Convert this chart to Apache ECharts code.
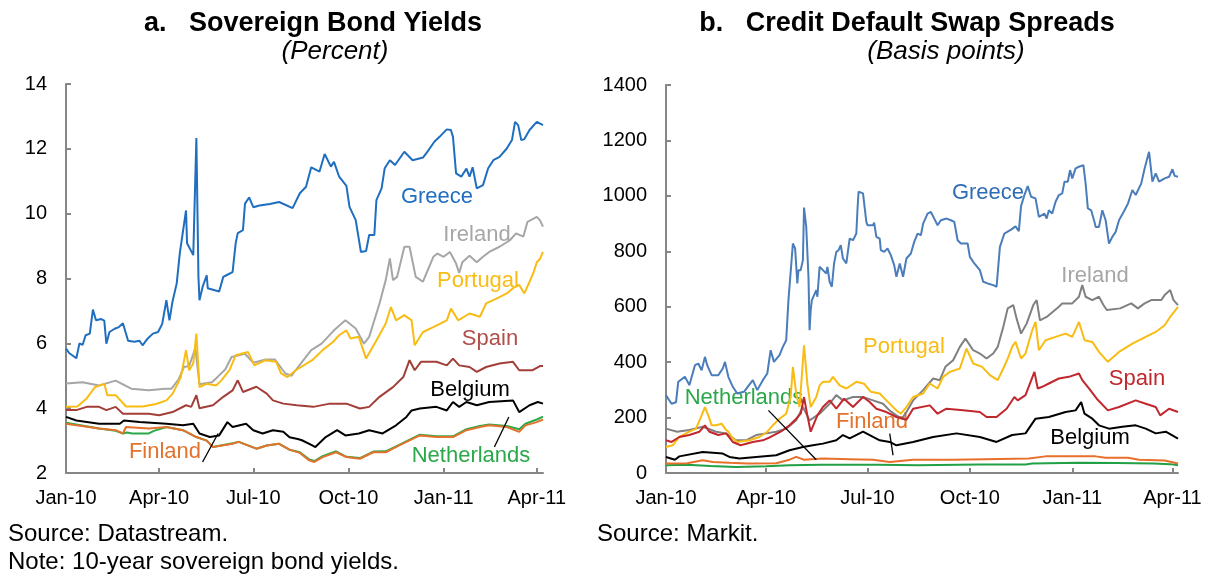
<!DOCTYPE html>
<html><head><meta charset="utf-8">
<script src="https://cdn.jsdelivr.net/npm/echarts@6/dist/echarts.min.js"></script>
<style>html,body{margin:0;padding:0;background:#fff}#c{width:1215px;height:574px}</style>
</head><body><div id="c"></div>
<script>
// ---------- DATA ----------
const tickLabels = ["Jan-10","Apr-10","Jul-10","Oct-10","Jan-11","Apr-11"];
const tickDates = ["2010-01-01","2010-04-01","2010-07-01","2010-10-01","2011-01-01","2011-04-01"];
const yieldTicks = [2,14,2];     // min, max, step
const cdsTicks = [0,1400,200];

// Panel a: 10-year sovereign bond yields (percent)
const greeceYield = [["2010-01-01",5.84],["2010-01-04",5.7],["2010-01-11",5.54],["2010-01-14",6.0],["2010-01-17",5.95],["2010-01-20",6.25],["2010-01-24",6.3],["2010-01-27",7.04],["2010-01-30",6.71],["2010-02-04",6.75],["2010-02-07",6.7],["2010-02-09",5.99],["2010-02-12",6.35],["2010-02-17",6.45],["2010-02-21",6.5],["2010-02-25",6.62],["2010-03-02",6.08],["2010-03-08",6.05],["2010-03-13",6.08],["2010-03-16",5.94],["2010-03-21",6.15],["2010-03-26",6.3],["2010-03-31",6.35],["2010-04-04",6.6],["2010-04-08",7.33],["2010-04-11",6.71],["2010-04-14",7.3],["2010-04-18",7.85],["2010-04-21",8.78],["2010-04-27",10.1],["2010-04-28",9.09],["2010-05-04",8.72],["2010-05-07",12.33],["2010-05-09",8.05],["2010-05-10",7.33],["2010-05-13",7.74],["2010-05-17",8.1],["2010-05-18",7.7],["2010-05-29",7.6],["2010-06-02",8.05],["2010-06-05",8.1],["2010-06-11",8.2],["2010-06-14",9.09],["2010-06-16",9.4],["2010-06-21",9.49],["2010-06-23",10.31],["2010-06-27",10.5],["2010-07-01",10.2],["2010-07-07",10.25],["2010-07-17",10.3],["2010-07-26",10.36],["2010-08-08",10.17],["2010-08-15",10.63],["2010-08-21",10.83],["2010-08-26",11.43],["2010-09-03",11.3],["2010-09-08",11.84],["2010-09-14",11.45],["2010-09-17",11.6],["2010-09-22",11.14],["2010-09-29",10.86],["2010-10-02",10.21],["2010-10-08",9.8],["2010-10-13",8.82],["2010-10-18",8.85],["2010-10-21",9.34],["2010-10-26",9.34],["2010-10-28",10.42],["2010-11-02",10.78],["2010-11-05",11.4],["2010-11-10",11.65],["2010-11-15",11.5],["2010-11-24",11.91],["2010-12-02",11.65],["2010-12-12",11.73],["2010-12-16",11.9],["2010-12-23",12.22],["2010-12-28",12.37],["2011-01-04",12.6],["2011-01-08",12.58],["2011-01-10",12.37],["2011-01-13",11.24],["2011-01-18",11.14],["2011-01-23",11.39],["2011-01-26",11.14],["2011-01-29",11.43],["2011-02-02",10.78],["2011-02-08",10.88],["2011-02-13",11.4],["2011-02-18",11.65],["2011-02-24",11.75],["2011-03-03",12.01],["2011-03-08",12.27],["2011-03-11",12.83],["2011-03-14",12.73],["2011-03-17",12.27],["2011-03-20",12.3],["2011-03-25",12.58],["2011-04-01",12.83],["2011-04-07",12.73]];
const irelandYield = [["2010-01-01",4.76],["2010-01-17",4.8],["2010-02-02",4.7],["2010-02-18",4.85],["2010-02-26",4.72],["2010-03-05",4.6],["2010-03-22",4.55],["2010-04-07",4.6],["2010-04-13",4.6],["2010-04-20",4.9],["2010-04-25",5.27],["2010-04-30",5.3],["2010-05-06",5.85],["2010-05-10",4.74],["2010-05-22",4.8],["2010-05-28",4.98],["2010-06-04",5.2],["2010-06-10",5.58],["2010-06-23",5.68],["2010-07-01",5.4],["2010-07-13",5.5],["2010-07-22",5.5],["2010-08-01",5.07],["2010-08-07",5.0],["2010-08-14",5.3],["2010-08-26",5.79],["2010-09-05",5.99],["2010-09-17",6.4],["2010-09-28",6.71],["2010-10-08",6.46],["2010-10-16",5.99],["2010-10-21",6.2],["2010-10-31",7.23],["2010-11-06",7.95],["2010-11-10",8.62],["2010-11-13",7.95],["2010-11-17",8.05],["2010-11-24",8.98],["2010-11-29",8.98],["2010-12-05",8.05],["2010-12-12",7.9],["2010-12-22",8.67],["2010-12-26",8.77],["2011-01-01",8.67],["2011-01-07",8.82],["2011-01-13",8.46],["2011-01-16",8.17],["2011-01-19",8.5],["2011-01-26",8.7],["2011-02-02",8.5],["2011-02-08",8.67],["2011-02-14",8.82],["2011-02-24",8.98],["2011-03-06",9.18],["2011-03-12",9.39],["2011-03-19",9.29],["2011-03-23",9.75],["2011-04-01",9.9],["2011-04-04",9.8],["2011-04-07",9.6]];
const portugalYield = [["2010-01-01",4.04],["2010-01-12",4.05],["2010-01-21",4.3],["2010-01-29",4.65],["2010-02-07",4.75],["2010-02-10",4.4],["2010-02-18",4.4],["2010-02-28",4.05],["2010-03-16",4.05],["2010-03-29",4.13],["2010-04-08",4.24],["2010-04-14",4.44],["2010-04-22",4.96],["2010-04-27",5.79],["2010-04-30",5.17],["2010-05-04",5.38],["2010-05-07",6.3],["2010-05-10",4.65],["2010-05-17",4.75],["2010-05-26",4.7],["2010-05-31",4.85],["2010-06-08",5.17],["2010-06-14",5.63],["2010-06-26",5.73],["2010-07-02",5.32],["2010-07-13",5.48],["2010-07-23",5.43],["2010-07-28",5.07],["2010-08-03",4.96],["2010-08-11",5.17],["2010-08-27",5.48],["2010-09-06",5.79],["2010-09-16",6.04],["2010-09-22",6.25],["2010-09-29",6.4],["2010-10-03",6.15],["2010-10-11",6.2],["2010-10-18",5.53],["2010-10-28",6.09],["2010-11-06",6.61],["2010-11-11",7.12],["2010-11-16",6.71],["2010-11-24",6.87],["2010-12-01",6.71],["2010-12-04",5.94],["2010-12-12",6.35],["2010-12-22",6.5],["2011-01-04",6.71],["2011-01-08",7.07],["2011-01-15",6.71],["2011-01-26",6.92],["2011-02-05",6.82],["2011-02-11",7.23],["2011-02-21",7.38],["2011-03-03",7.54],["2011-03-09",7.7],["2011-03-15",7.8],["2011-03-20",7.54],["2011-03-25",7.9],["2011-03-29",8.2],["2011-04-01",8.5],["2011-04-04",8.6],["2011-04-07",8.82]];
const spainYield = [["2010-01-01",3.94],["2010-01-11",3.94],["2010-01-21",4.04],["2010-02-02",4.04],["2010-02-09",3.94],["2010-02-18",4.04],["2010-02-25",3.83],["2010-03-22",3.83],["2010-04-01",3.78],["2010-04-14",3.88],["2010-04-27",4.09],["2010-05-02",4.04],["2010-05-07",4.4],["2010-05-10",4.0],["2010-05-23",4.09],["2010-06-02",4.35],["2010-06-11",4.55],["2010-06-16",4.86],["2010-06-21",4.5],["2010-07-04",4.66],["2010-07-14",4.45],["2010-07-20",4.24],["2010-07-30",4.14],["2010-08-12",4.09],["2010-08-28",4.04],["2010-09-13",4.14],["2010-09-29",4.14],["2010-10-12",3.99],["2010-10-21",4.04],["2010-10-31",4.35],["2010-11-13",4.65],["2010-11-23",4.96],["2010-11-29",5.48],["2010-12-04",5.17],["2010-12-10",5.43],["2010-12-25",5.43],["2011-01-04",5.32],["2011-01-10",5.53],["2011-01-16",5.32],["2011-01-26",5.27],["2011-02-02",5.12],["2011-02-11",5.27],["2011-02-24",5.38],["2011-03-09",5.43],["2011-03-15",5.17],["2011-03-28",5.17],["2011-04-04",5.3],["2011-04-07",5.3]];
const belgiumYield = [["2010-01-01",3.73],["2010-01-11",3.62],["2010-02-02",3.52],["2010-02-22",3.52],["2010-02-26",3.62],["2010-03-13",3.57],["2010-04-08",3.52],["2010-04-24",3.47],["2010-05-04",3.52],["2010-05-10",3.22],["2010-05-20",3.11],["2010-05-29",3.16],["2010-06-06",3.57],["2010-06-11",3.42],["2010-06-24",3.52],["2010-07-01",3.32],["2010-07-10",3.22],["2010-07-20",3.32],["2010-07-30",3.27],["2010-08-05",3.1],["2010-08-13",3.05],["2010-08-17",3.01],["2010-08-27",2.85],["2010-08-30",2.8],["2010-09-09",3.11],["2010-09-20",3.32],["2010-09-28",3.16],["2010-10-11",3.22],["2010-10-21",3.32],["2010-11-03",3.22],["2010-11-16",3.47],["2010-11-26",3.73],["2010-12-01",3.93],["2010-12-09",3.99],["2010-12-25",4.04],["2011-01-04",3.93],["2011-01-10",4.19],["2011-01-16",4.04],["2011-01-23",4.19],["2011-02-02",4.09],["2011-02-14",4.19],["2011-03-09",4.24],["2011-03-15",3.88],["2011-03-25",4.09],["2011-04-02",4.19],["2011-04-07",4.14]];
const finlandYield = [["2010-01-01",3.52],["2010-02-02",3.37],["2010-02-18",3.32],["2010-02-25",3.22],["2010-02-28",3.42],["2010-03-22",3.37],["2010-04-08",3.42],["2010-04-24",3.32],["2010-05-07",3.11],["2010-05-17",3.0],["2010-05-23",2.8],["2010-06-11",2.9],["2010-06-17",2.96],["2010-07-04",2.75],["2010-07-14",2.85],["2010-07-26",2.9],["2010-08-05",2.72],["2010-08-15",2.62],["2010-08-24",2.39],["2010-08-29",2.34],["2010-09-06",2.49],["2010-09-19",2.64],["2010-09-29",2.49],["2010-10-12",2.44],["2010-10-25",2.64],["2010-11-06",2.64],["2010-11-19",2.85],["2010-12-09",3.16],["2010-12-25",3.11],["2011-01-10",3.11],["2011-01-23",3.32],["2011-02-05",3.42],["2011-02-14",3.47],["2011-03-03",3.42],["2011-03-15",3.27],["2011-03-21",3.47],["2011-04-01",3.57],["2011-04-07",3.65]];
const netherlandsYield = [["2010-01-01",3.55],["2010-02-02",3.37],["2010-02-18",3.3],["2010-02-25",3.22],["2010-03-01",3.25],["2010-03-06",3.22],["2010-03-22",3.22],["2010-03-27",3.3],["2010-04-08",3.42],["2010-04-24",3.32],["2010-05-07",3.11],["2010-05-17",3.0],["2010-05-23",2.8],["2010-06-11",2.92],["2010-06-17",2.96],["2010-07-04",2.75],["2010-07-14",2.85],["2010-07-26",2.9],["2010-08-05",2.72],["2010-08-15",2.64],["2010-08-24",2.42],["2010-08-29",2.37],["2010-09-06",2.52],["2010-09-19",2.67],["2010-09-29",2.5],["2010-10-12",2.46],["2010-10-25",2.66],["2010-11-06",2.67],["2010-11-19",2.87],["2010-12-09",3.18],["2010-12-25",3.13],["2011-01-10",3.13],["2011-01-23",3.35],["2011-02-05",3.45],["2011-02-14",3.5],["2011-03-03",3.45],["2011-03-15",3.35],["2011-03-21",3.52],["2011-04-01",3.65],["2011-04-07",3.74]];

// Panel b: credit default swap spreads (basis points)
const greeceCDS = [["2010-01-01",280],["2010-01-06",250],["2010-01-10",255],["2010-01-12",329],["2010-01-18",347],["2010-01-22",317],["2010-01-27",389],["2010-01-30",395],["2010-02-02",371],["2010-02-05",419],["2010-02-07",389],["2010-02-11",353],["2010-02-17",353],["2010-02-21",377],["2010-02-23",401],["2010-02-26",347],["2010-03-02",311],["2010-03-06",287],["2010-03-12",293],["2010-03-20",335],["2010-03-24",299],["2010-03-29",335],["2010-04-02",359],["2010-04-05",443],["2010-04-08",401],["2010-04-13",425],["2010-04-16",455],["2010-04-19",479],["2010-04-21",623],["2010-04-25",828],["2010-04-27",810],["2010-04-29",684],["2010-04-30",732],["2010-05-02",732],["2010-05-04",768],["2010-05-05",958],["2010-05-07",888],["2010-05-09",708],["2010-05-10",515],["2010-05-11",587],["2010-05-12",623],["2010-05-16",660],["2010-05-17",636],["2010-05-19",744],["2010-05-22",732],["2010-05-25",720],["2010-05-26",744],["2010-05-28",690],["2010-05-30",672],["2010-06-01",756],["2010-06-03",798],["2010-06-05",804],["2010-06-07",822],["2010-06-09",774],["2010-06-12",756],["2010-06-15",846],["2010-06-18",840],["2010-06-21",864],["2010-06-22",948],["2010-06-23",1015],["2010-06-27",1009],["2010-06-28",1003],["2010-06-30",906],["2010-07-01",894],["2010-07-06",894],["2010-07-07",903],["2010-07-09",852],["2010-07-12",846],["2010-07-13",804],["2010-07-16",798],["2010-07-19",810],["2010-07-22",786],["2010-07-25",750],["2010-07-27",708],["2010-07-30",756],["2010-08-02",708],["2010-08-05",774],["2010-08-09",792],["2010-08-12",834],["2010-08-15",864],["2010-08-18",858],["2010-08-20",900],["2010-08-24",936],["2010-08-27",942],["2010-08-30",918],["2010-09-02",894],["2010-09-05",912],["2010-09-10",918],["2010-09-14",912],["2010-09-17",906],["2010-09-20",840],["2010-09-23",828],["2010-09-29",828],["2010-10-01",780],["2010-10-05",756],["2010-10-10",732],["2010-10-13",690],["2010-10-17",684],["2010-10-22",678],["2010-10-25",672],["2010-10-28",816],["2010-11-01",864],["2010-11-07",878],["2010-11-11",890],["2010-11-14",873],["2010-11-16",963],["2010-11-19",1003],["2010-11-22",1035],["2010-11-25",997],["2010-11-29",991],["2010-12-02",924],["2010-12-07",936],["2010-12-09",918],["2010-12-11",948],["2010-12-14",936],["2010-12-17",979],["2010-12-20",1003],["2010-12-23",1009],["2010-12-25",1051],["2010-12-28",1051],["2010-12-30",1093],["2011-01-01",1063],["2011-01-04",1099],["2011-01-07",1105],["2011-01-11",1111],["2011-01-13",1045],["2011-01-15",955],["2011-01-18",948],["2011-01-21",906],["2011-01-22",888],["2011-01-25",888],["2011-01-28",948],["2011-01-31",912],["2011-02-03",828],["2011-02-06",852],["2011-02-09",870],["2011-02-12",912],["2011-02-17",948],["2011-02-20",972],["2011-02-24",1021],["2011-02-27",1003],["2011-03-04",1045],["2011-03-07",1099],["2011-03-11",1159],["2011-03-14",1051],["2011-03-17",1081],["2011-03-20",1051],["2011-03-25",1063],["2011-03-29",1069],["2011-04-01",1096],["2011-04-03",1072],["2011-04-06",1069]];
const irelandCDS = [["2010-01-01",160],["2010-01-11",149],["2010-01-22",155],["2010-02-03",167],["2010-02-15",149],["2010-02-24",143],["2010-03-05",118],["2010-03-14",118],["2010-03-23",137],["2010-04-01",143],["2010-04-10",149],["2010-04-19",160],["2010-04-28",190],["2010-05-04",238],["2010-05-10",190],["2010-05-19",214],["2010-05-28",250],["2010-06-03",281],["2010-06-09",262],["2010-06-18",274],["2010-06-27",274],["2010-07-06",262],["2010-07-15",250],["2010-07-21",225],["2010-07-27",208],["2010-08-01",196],["2010-08-05",220],["2010-08-11",262],["2010-08-20",299],["2010-08-29",341],["2010-09-04",335],["2010-09-09",383],["2010-09-16",407],["2010-09-22",455],["2010-09-27",485],["2010-10-04",443],["2010-10-10",431],["2010-10-16",413],["2010-10-22",431],["2010-10-26",455],["2010-10-31",527],["2010-11-04",594],["2010-11-09",606],["2010-11-12",557],["2010-11-16",503],["2010-11-21",539],["2010-11-27",606],["2010-11-30",624],["2010-12-03",551],["2010-12-09",563],["2010-12-20",600],["2010-12-23",612],["2011-01-01",612],["2011-01-07",636],["2011-01-10",678],["2011-01-13",636],["2011-01-19",624],["2011-01-25",636],["2011-01-29",606],["2011-02-01",588],["2011-02-13",594],["2011-02-23",612],["2011-03-01",594],["2011-03-07",612],["2011-03-13",624],["2011-03-22",624],["2011-03-25",642],["2011-03-30",660],["2011-04-02",624],["2011-04-06",606]];
const portugalCDS = [["2010-01-01",94],["2010-01-07",100],["2010-01-13",130],["2010-01-22",149],["2010-01-28",160],["2010-02-02",208],["2010-02-05",238],["2010-02-08",208],["2010-02-11",172],["2010-02-15",172],["2010-02-20",178],["2010-02-23",160],["2010-02-26",149],["2010-03-02",125],["2010-03-06",112],["2010-03-17",118],["2010-03-26",130],["2010-04-02",149],["2010-04-07",172],["2010-04-13",196],["2010-04-19",214],["2010-04-23",274],["2010-04-25",383],["2010-04-28",286],["2010-05-01",238],["2010-05-05",461],["2010-05-08",322],["2010-05-11",238],["2010-05-16",274],["2010-05-19",316],["2010-05-22",329],["2010-05-28",329],["2010-05-31",347],["2010-06-06",316],["2010-06-12",305],["2010-06-21",329],["2010-06-28",322],["2010-07-04",293],["2010-07-12",287],["2010-07-18",262],["2010-07-27",226],["2010-07-31",214],["2010-08-05",238],["2010-08-11",274],["2010-08-20",287],["2010-08-26",323],["2010-09-02",305],["2010-09-07",347],["2010-09-13",365],["2010-09-22",377],["2010-09-28",449],["2010-10-04",395],["2010-10-12",383],["2010-10-19",353],["2010-10-26",335],["2010-10-31",377],["2010-11-04",413],["2010-11-08",455],["2010-11-11",473],["2010-11-16",413],["2010-11-20",431],["2010-11-26",515],["2010-11-29",545],["2010-12-02",443],["2010-12-08",479],["2010-12-17",491],["2010-12-26",503],["2011-01-01",491],["2011-01-07",545],["2011-01-12",479],["2011-01-19",473],["2011-01-25",437],["2011-02-02",401],["2011-02-12",437],["2011-02-24",467],["2011-03-08",491],["2011-03-17",509],["2011-03-25",533],["2011-03-31",569],["2011-04-06",599]];
const spainCDS = [["2010-01-01",118],["2010-01-06",112],["2010-01-13",130],["2010-01-22",137],["2010-01-31",149],["2010-02-05",172],["2010-02-09",149],["2010-02-17",137],["2010-02-24",143],["2010-03-02",112],["2010-03-09",100],["2010-03-20",112],["2010-03-29",118],["2010-04-05",130],["2010-04-14",149],["2010-04-22",172],["2010-04-28",196],["2010-05-02",214],["2010-05-05",274],["2010-05-08",208],["2010-05-11",149],["2010-05-17",208],["2010-05-22",238],["2010-05-28",262],["2010-06-03",232],["2010-06-10",268],["2010-06-18",238],["2010-06-27",274],["2010-07-03",256],["2010-07-09",232],["2010-07-18",220],["2010-07-27",202],["2010-08-05",192],["2010-08-11",232],["2010-08-26",244],["2010-09-02",214],["2010-09-10",232],["2010-09-25",226],["2010-10-10",220],["2010-10-16",202],["2010-10-25",202],["2010-11-03",232],["2010-11-10",274],["2010-11-13",262],["2010-11-20",281],["2010-11-28",365],["2010-12-01",305],["2010-12-05",311],["2010-12-11",323],["2010-12-20",341],["2010-12-29",347],["2011-01-07",359],["2011-01-10",335],["2011-01-16",305],["2011-01-23",268],["2011-02-02",226],["2011-02-12",238],["2011-02-27",262],["2011-03-08",250],["2011-03-17",238],["2011-03-21",208],["2011-03-29",232],["2011-04-06",220]];
const belgiumCDS = [["2010-01-01",58],["2010-01-09",48],["2010-01-13",60],["2010-02-03",76],["2010-02-21",70],["2010-02-27",58],["2010-03-08",52],["2010-03-23",58],["2010-04-10",64],["2010-04-22",82],["2010-05-04",94],["2010-05-13",100],["2010-05-22",106],["2010-06-03",118],["2010-06-09",137],["2010-06-15",125],["2010-06-27",149],["2010-07-06",130],["2010-07-12",118],["2010-07-21",112],["2010-07-27",100],["2010-08-11",112],["2010-08-29",130],["2010-09-19",143],["2010-10-10",130],["2010-10-25",112],["2010-11-08",137],["2010-11-20",143],["2010-11-29",196],["2010-12-11",202],["2010-12-26",220],["2011-01-04",226],["2011-01-09",256],["2011-01-12",214],["2011-01-19",196],["2011-01-25",172],["2011-02-03",160],["2011-02-15",167],["2011-02-27",172],["2011-03-08",160],["2011-03-17",143],["2011-03-26",149],["2011-04-06",124]];
const finlandCDS = [["2010-01-01",34],["2010-01-20",35],["2010-02-03",46],["2010-02-12",40],["2010-02-27",37],["2010-03-15",34],["2010-04-10",35],["2010-04-22",48],["2010-04-28",58],["2010-05-05",48],["2010-05-22",52],["2010-06-15",50],["2010-07-06",48],["2010-07-21",40],["2010-08-11",48],["2010-09-15",48],["2010-10-15",50],["2010-11-23",52],["2010-12-08",60],["2011-01-22",60],["2011-01-31",55],["2011-02-20",55],["2011-03-02",48],["2011-03-25",45],["2011-04-06",34]];
const netherlandsCDS = [["2010-01-01",28],["2010-01-20",30],["2010-02-10",25],["2010-03-05",22],["2010-04-01",24],["2010-04-22",28],["2010-05-20",30],["2010-07-10",30],["2010-08-15",28],["2010-10-10",31],["2010-11-20",31],["2010-11-26",34],["2011-01-07",37],["2011-02-10",36],["2011-03-15",34],["2011-03-30",32],["2011-04-06",28]];

// leader lines (data coordinates)
const leadersA = [[["2010-05-13",2.34],["2010-05-28",3.22]],[["2011-02-19",2.8],["2011-03-05",3.73]]];
const leadersB = [[["2010-04-03",226],["2010-05-16",48]],[["2010-07-21",142],["2010-07-24",64]]];

// ---------- CHART ----------
const FONT = '"Liberation Sans", Arial, sans-serif';
const ts = s => { const p = s.split('-').map(Number); return Date.UTC(p[0], p[1]-1, p[2]); };
const conv = arr => arr.map(d => [ts(d[0]), d[1]]);
const tickTs = tickDates.map(ts);
const fmt = v => { const i = tickTs.indexOf(v); return i >= 0 ? tickLabels[i] : ''; };
const AX = '#868686';

function xAxisDef(gi, maxDate) {
  return {
    type: 'value', gridIndex: gi, min: ts('2010-01-01'), max: ts(maxDate), scale: true,
    axisLine: {show: true, onZero: false, lineStyle: {color: AX, width: 2}},
    axisTick: {show: true, inside: true, length: 5, customValues: tickTs, lineStyle: {color: AX, width: 2}},
    axisLabel: {show: true, customValues: tickTs, formatter: fmt, color: '#000', fontSize: 20, fontFamily: FONT, margin: 15, showMinLabel: true, showMaxLabel: true},
    splitLine: {show: false}
  };
}
function yAxisDef(gi, t) {
  return {
    type: 'value', gridIndex: gi, min: t[0], max: t[1], interval: t[2],
    axisLine: {show: true, onZero: false, lineStyle: {color: AX, width: 2}},
    axisTick: {show: true, inside: true, length: 5, lineStyle: {color: AX, width: 2}},
    axisLabel: {color: '#000', fontSize: 20, fontFamily: FONT, margin: 19, formatter: v => String(v)},
    splitLine: {show: false}
  };
}
function line(name, data, color, gi) {
  return {name, type: 'line', xAxisIndex: gi, yAxisIndex: gi, data: conv(data), showSymbol: false, symbol: 'none',
    lineStyle: {color, width: 2}, itemStyle: {color}, animation: false, silent: true};
}
function leaderSeries(gi, leaders) {
  return {type: 'line', xAxisIndex: gi, yAxisIndex: gi, data: [], silent: true,
    markLine: {silent: true, symbol: 'none', animation: false, label: {show: false},
      lineStyle: {color: '#000', width: 1.3, type: 'solid'},
      data: leaders.map(l => [{coord: [ts(l[0][0]), l[0][1]]}, {coord: [ts(l[1][0]), l[1][1]]}])}};
}
function txt(text, x, y, color, size, extra) {
  return {type: 'text', x: x, y: y, silent: true, style: {text, fill: color,
    font: (extra ? extra + ' ' : '') + size + 'px ' + FONT, textAlign: 'center', textVerticalAlign: 'middle'}};
}
function txtL(text, x, y, size) {
  return {type: 'text', x: x, y: y, silent: true, style: {text, fill: '#000', font: size + 'px ' + FONT,
    textAlign: 'left', textVerticalAlign: 'middle'}};
}

const option = {
  animation: false,
  grid: [{left: 66, top: 84, width: 477, height: 389}, {left: 666, top: 85, width: 512, height: 388}],
  xAxis: [xAxisDef(0, '2011-04-07'), xAxisDef(1, '2011-04-06')],
  yAxis: [yAxisDef(0, yieldTicks), yAxisDef(1, cdsTicks)],
  series: [
    line('Netherlands', netherlandsYield, '#2BA84A', 0),
    line('Finland', finlandYield, '#E2722C', 0),
    line('Belgium', belgiumYield, '#000000', 0),
    line('Spain', spainYield, '#A13F38', 0),
    line('Ireland', irelandYield, '#A6A6A6', 0),
    line('Portugal', portugalYield, '#F8BC12', 0),
    line('Greece', greeceYield, '#1F6EBF', 0),
    leaderSeries(0, leadersA),
    line('Netherlands', netherlandsCDS, '#22A045', 1),
    line('Finland', finlandCDS, '#E8702A', 1),
    line('Belgium', belgiumCDS, '#000000', 1),
    line('Ireland', irelandCDS, '#808080', 1),
    line('Portugal', portugalCDS, '#F8BC12', 1),
    line('Spain', spainCDS, '#C1272D', 1),
    line('Greece', greeceCDS, '#4A7DBA', 1),
    leaderSeries(1, leadersB)
  ],
  graphic: [
    txt('a.   Sovereign Bond Yields', 313, 24, '#000', 27, 'bold'),
    txt('(Percent)', 335, 52, '#000', 26, 'italic'),
    txt('b.   Credit Default Swap Spreads', 907, 24, '#000', 27, 'bold'),
    txt('(Basis points)', 946, 52, '#000', 26, 'italic'),
    txtL('Source: Datastream.', 8, 534, 24),
    txtL('Note: 10-year sovereign bond yields.', 8, 562, 24),
    txtL('Source: Markit.', 597, 534, 24),
    txt('Greece', 437, 197, '#1F6EBF', 22),
    txt('Ireland', 477, 235, '#A6A6A6', 22),
    txt('Portugal', 478, 281, '#F8BC12', 22),
    txt('Spain', 490, 339, '#B14E4A', 22),
    txt('Belgium', 470, 390, '#000', 22),
    txt('Finland', 165, 452, '#E2722C', 22),
    txt('Netherlands', 471, 456, '#2BA84A', 22),
    txt('Greece', 988, 193, '#2E6DB4', 22),
    txt('Ireland', 1095, 276, '#A6A6A6', 22),
    txt('Portugal', 904, 347, '#F8BC12', 22),
    txt('Spain', 1137, 379, '#C1272D', 22),
    txt('Belgium', 1090, 438, '#000', 22),
    txt('Netherlands', 744, 398, '#2BA84A', 22),
    txt('Finland', 872, 422, '#E2722C', 22)
  ]
};
echarts.init(document.getElementById('c'), null, {renderer: 'canvas'}).setOption(option);
</script>
</body></html>
